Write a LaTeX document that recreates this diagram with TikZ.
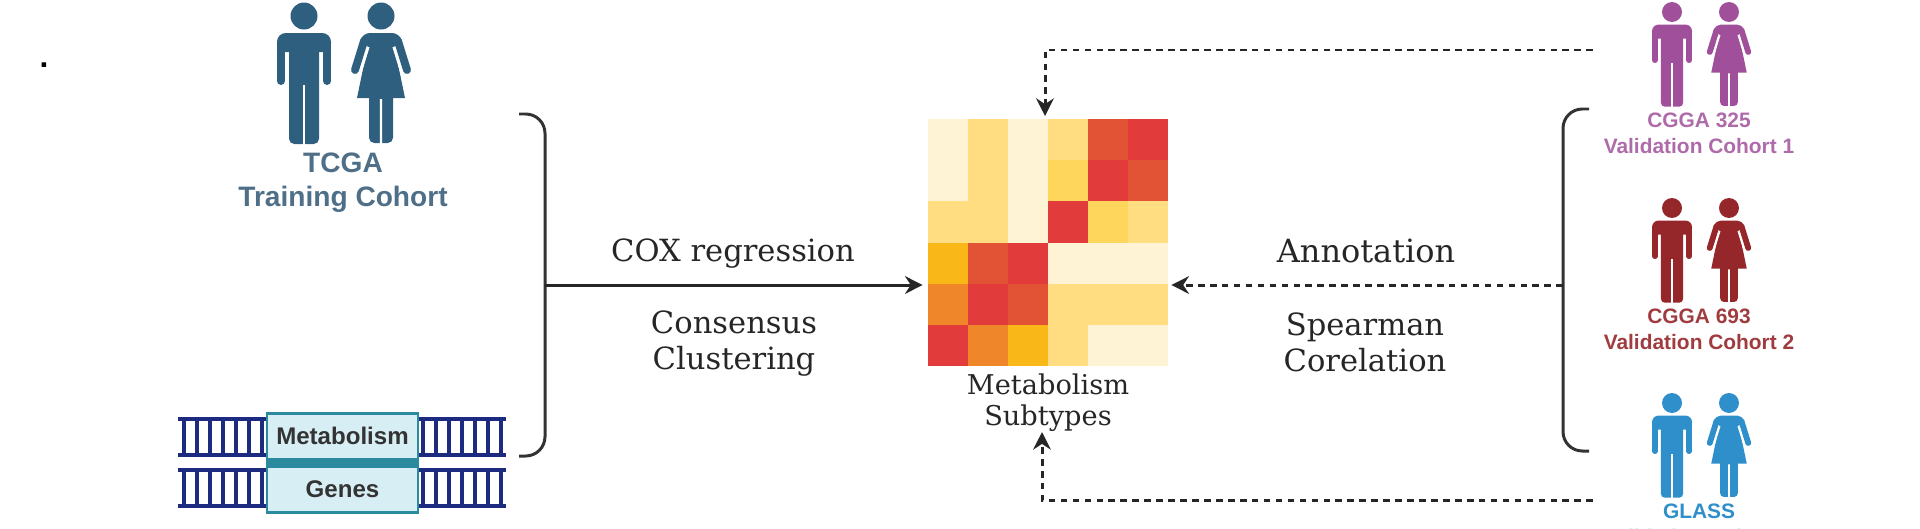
\documentclass[tikz,border=0pt]{standalone}
\usepackage{fontspec}
\setmainfont{Liberation Sans}
\newfontfamily\serifface{DejaVu Serif}
\usetikzlibrary{arrows.meta}
\usetikzlibrary{positioning}

\definecolor{tcgacol}{HTML}{2F5F7F}
\definecolor{tcgatxt}{HTML}{4F6F88}
\definecolor{purpcol}{HTML}{A0509A}
\definecolor{redcol}{HTML}{95262A}
\definecolor{bluecol}{HTML}{2E8FCB}
\definecolor{navy}{HTML}{1C2A80}
\definecolor{genefill}{HTML}{D7EEF5}
\definecolor{geneedge}{HTML}{2B8A9E}
% heat colours
\definecolor{L}{HTML}{FFF3D6}
\definecolor{Y}{HTML}{FFDD80}
\definecolor{D}{HTML}{FFD65C}
\definecolor{F}{HTML}{FAB818}
\definecolor{O}{HTML}{F0862A}
\definecolor{E}{HTML}{E25335}
\definecolor{R}{HTML}{E23B3B}

\tikzset{
  serif/.style={inner sep=0pt,text=black!85,align=center,font=\serifface\fontsize{17.4}{20.5}\selectfont},
  small serif/.style={serif,font=\serifface\fontsize{15.5}{17.6}\selectfont},
  cohort/.style={inner sep=0pt,align=center,font=\bfseries\fontsize{11.9}{14.8}\selectfont},
  genebox/.style={draw=geneedge,fill=genefill,line width=1.7pt,inner sep=0pt,minimum width=151*0.02cm,minimum height=46*0.02cm,font=\bfseries\fontsize{13.7}{16}\selectfont,text=black!80},
  brace/.style={line width=1.7pt,draw=black!80,rounded corners=11pt},
  link/.style={line width=1.7pt,draw=black!85,-{Stealth[length=10pt,width=10pt]}},
  dotlink/.style={link,dash pattern=on 3.8pt off 3pt}
}

\begin{document}
\begin{tikzpicture}[x=0.02cm,y=-0.02cm]
  \useasboundingbox (0,0) rectangle (1920,528);

  \node[inner sep=0pt,font=\bfseries\fontsize{18}{18}\selectfont] (dot) at (44,65) {.};

  %draw people
  \foreach \name/\x/\y/\s/\col in {tcga/304/16/1/tcgacol, cggaA/1672/12/0.74/purpcol, cggaB/1672/208/0.74/redcol, glass/1672/403/0.74/bluecol}{
    \begin{scope}[shift={(\x,\y)},scale=\s]
      % man
      \fill[\col] (0,0) circle[radius=13.5];
      \fill[\col,rounded corners=\s*5pt] (-27,36) -- (-27,17) -- (27,17) -- (27,36) -- cycle;
      \fill[\col] (-27,26) rectangle (27,34);
      \fill[\col,rounded corners=\s*3pt] (-15,25) -- (15,25) -- (15,128) -- (-15,128) -- cycle;
      \draw[\col,line width=\s*4.5pt,line cap=round] (-23,28) -- (-23,65) (23,28) -- (23,65);
      \draw[white,line width=\s*1.5pt] (0,69) -- (0,129);
      % woman
      \fill[\col] (77,0) circle[radius=13.5];
      \begin{scope}[xshift=77*0.02cm]
        \fill[\col,rounded corners=\s*3pt] (-12,70) -- (12,70) -- (12,127) -- (-12,127) -- cycle;
        \fill[\col,rounded corners=\s*4pt] (-18,17) -- (18,17) -- (23,30) -- (-23,30) -- cycle;
        \fill[\col] (-12,24) -- (12,24) -- (24,82) -- (-24,82) -- cycle;
        \draw[\col,line width=\s*4.5pt,line cap=round] (-17,25) -- (-26,54) (17,25) -- (26,54);
        \draw[white,line width=\s*1.2pt] (-12.5,31) -- (-20.5,57) (12.5,31) -- (20.5,57) (0,83) -- (0,128);
      \end{scope}
    \end{scope}
  }

  %cohort labels
  \node[cohort,text=tcgatxt,font=\bfseries\fontsize{16}{19.3}\selectfont] (tcgalab) at (343,183) {TCGA\\Training Cohort};
  \node[cohort,text=purpcol!85] (cggaAlab) at (1699,133) {CGGA 325\\Validation Cohort 1};
  \node[cohort,text=redcol!90] (cggaBlab) at (1699,329) {CGGA 693\\Validation Cohort 2};
  \node[cohort,text=bluecol] (glasslab) at (1699,524) {GLASS\\Validation Cohort 3};

  %dna
  \foreach \a/\b/\dx in {178/267/184, 418/506/423}{
    \foreach \ya/\yb in {419/455, 470/506}{
      \foreach \i in {0,...,6}{
        \draw[navy,line width=2pt] (\dx+\i*13,\ya) -- (\dx+\i*13,\yb);
      }
      \draw[navy,line width=2.5pt] (\a,\ya) -- (\b,\ya);
      \draw[navy,line width=2.5pt] (\a,\yb) -- (\b,\yb);
    }
  }
  \node[genebox] (metab) at (342.5,436) {Metabolism};
  \node[genebox] (genes) at (342.5,489) {Genes};
  \fill[geneedge] (metab.south west) rectangle (genes.north east);

  %heat
  \def\d{40};
  \def\h{41.17};
  \def\dy{0};
  \foreach \i/\col in {0/L,1/Y,2/L,3/Y,4/E,5/R}{ \fill[\col] (928+\i*\d,119+\dy*\h) rectangle (928+\i*\d+\d,119+\dy*\h+\h); }
  \def\dy{1};
  \foreach \i/\col in {0/L,1/Y,2/L,3/D,4/R,5/E}{ \fill[\col] (928+\i*\d,119+\dy*\h) rectangle (928+\i*\d+\d,119+\dy*\h+\h); }
  \def\dy{2};
  \foreach \i/\col in {0/Y,1/Y,2/L,3/R,4/D,5/Y}{ \fill[\col] (928+\i*\d,119+\dy*\h) rectangle (928+\i*\d+\d,119+\dy*\h+\h); }
  \def\dy{3};
  \foreach \i/\col in {0/F,1/E,2/R,3/L,4/L,5/L}{ \fill[\col] (928+\i*\d,119+\dy*\h) rectangle (928+\i*\d+\d,119+\dy*\h+\h); }
  \def\dy{4};
  \foreach \i/\col in {0/O,1/R,2/E,3/Y,4/Y,5/Y}{ \fill[\col] (928+\i*\d,119+\dy*\h) rectangle (928+\i*\d+\d,119+\dy*\h+\h); }
  \def\dy{5};
  \foreach \i/\col in {0/R,1/O,2/F,3/Y,4/L,5/L}{ \fill[\col] (928+\i*\d,119+\dy*\h) rectangle (928+\i*\d+\d,119+\dy*\h+\h); }

  \node[inner sep=0pt,minimum width=248*0.02cm,minimum height=247*0.02cm] (heat) at (1047,242.5) {};
  \node[small serif] (subtypes) at (1048,403) {Metabolism\\Subtypes};

  %text on links
  \node[serif] (cox) at (733,254) {COX regression};
  \node[serif] (cluster) at (734,344) {Consensus\\Clustering};
  \node[serif,font=\serifface\fontsize{18.2}{20.5}\selectfont] (annot) at (1366,251) {Annotation};
  \node[serif] (spear) at (1365,342) {Spearman\\Corelation};

  %brackets
  \draw[brace] (519,114) -- (545,114) -- (545,456) -- (519,456);
  \draw[brace] (1589,109) -- (1563,109) -- (1563,451) -- (1589,451);

  \coordinate (lbr) at (545,285);
  \coordinate (rbr) at (1563,285);
  \coordinate (topsrc) at (1593,50);
  \coordinate (topbend) at (1045,50);
  \coordinate (toptip) at (1045,116);
  \coordinate (botsrc) at (1593,500);
  \coordinate (botbend) at (1042,500);
  \coordinate (bottip) at (1042,432);

  \draw[link] (lbr) -- (heat.west |- lbr);
  \draw[dotlink] (rbr) -- (heat.east |- rbr);
  \draw[dotlink] (topsrc) -- (topbend) -- (toptip);
  \draw[dotlink] (botsrc) -- (botbend) -- (bottip);
\end{tikzpicture}
\end{document}
